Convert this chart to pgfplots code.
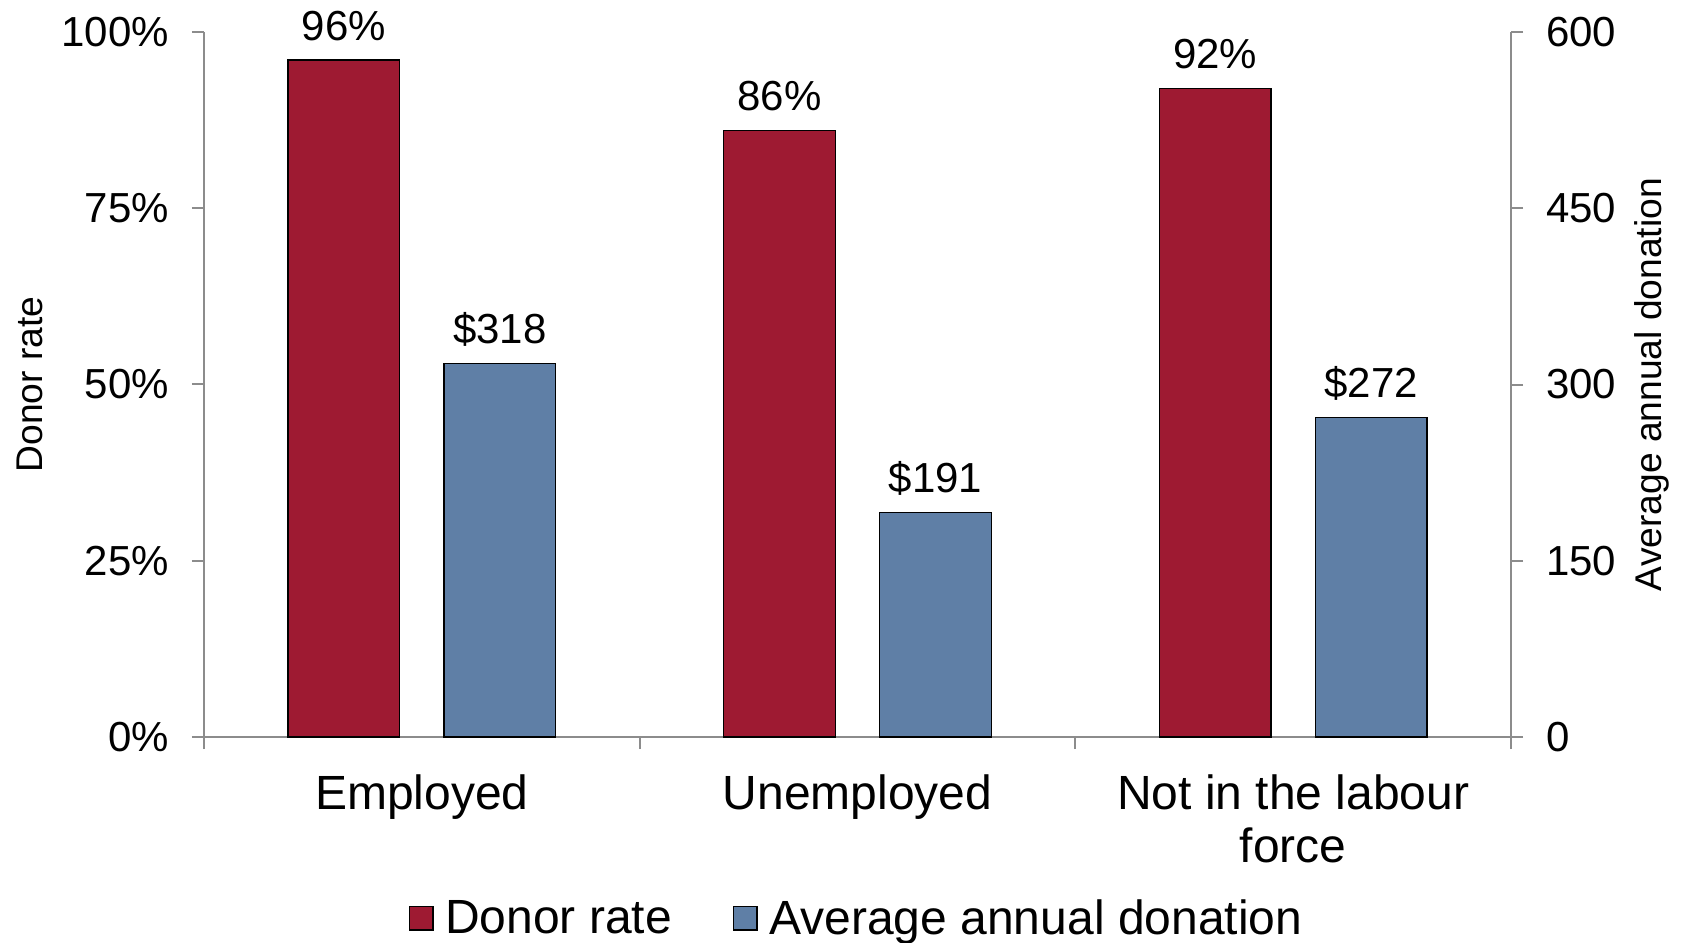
\documentclass[border=0pt]{standalone}
\usepackage{pgfplots}
\pgfplotsset{compat=1.18}
\usepackage{fontspec}
\setmainfont{Liberation Sans}
\definecolor{barred}{HTML}{9E1A32}
\definecolor{barblue}{HTML}{5F7FA6}
\definecolor{axgray}{HTML}{8C8C8C}
\pgfplotsset{
  /pgf/number format/assume math mode=true,
  common/.style={
    at={(0,0)}, anchor=south west, scale only axis,
    width=653.5pt, height=352.5pt,
    xmin=-0.5, xmax=2.5, clip=false,
    tick align=outside, major tick length=6pt,
    axis line style={axgray, line width=1pt},
    tick style={axgray, line width=1pt},
    ticklabel style={font=\fontsize{21}{25}\selectfont},
    ybar,
  },
}
\begin{document}
\begin{tikzpicture}
\begin{axis}[common,
  ymin=0, ymax=100,
  axis y line*=left, axis x line*=bottom,
  ytick={0,25,50,75,100},
  yticklabel={\pgfmathprintnumber{\tick}\%},
  yticklabel style={xshift=-8pt},
  xtick={-0.5,0.5,1.5,2.5}, xticklabels={},
  extra x ticks={0,1,2},
  extra x tick labels={Employed,Unemployed,{Not in the labour\\force}},
  extra x tick style={major tick length=0pt,
    xticklabel style={font=\fontsize{24}{26.3}\selectfont, align=center, anchor=north, yshift=-15.5pt}},
  nodes near coords={\pgfmathprintnumber{\pgfplotspointmeta}\%},
  nodes near coords style={font=\fontsize{21}{25}\selectfont, text depth=0pt, yshift=6.2pt},
]
\addplot[fill=barred, draw=black, line width=0.75pt, bar width=0.256, bar shift=-0.179]
  coordinates {(0,96) (1,86) (2,92)};
\node[rotate=90, font=\fontsize{18.6}{22}\selectfont] at ([xshift=-87pt]rel axis cs:0,0.5) {Donor rate};
\end{axis}
\begin{axis}[common,
  ymin=0, ymax=600,
  axis y line*=right, axis x line=none,
  ytick={0,150,300,450,600},
  yticklabel style={xshift=8pt},
  nodes near coords={\$\pgfmathprintnumber{\pgfplotspointmeta}},
  nodes near coords style={font=\fontsize{21}{25}\selectfont, text depth=0pt, yshift=6.2pt},
  legend style={draw=none, at={(0.5,-0.257)}, anchor=center, legend columns=2,
    font=\fontsize{24}{28}\selectfont,
    /tikz/every odd column/.append style={column sep=3.75pt},
    /tikz/every even column/.append style={column sep=28.4pt}},
  legend image code/.code={\draw[#1, line width=0.75pt] (0pt,-5.9pt) rectangle (11.8pt,5.9pt);},
]
\addlegendimage{fill=barred, draw=black}
\addlegendentry{Donor rate}
\addplot[fill=barblue, draw=black, line width=0.75pt, bar width=0.256, bar shift=0.179]
  coordinates {(0,318) (1,191) (2,272)};
\addlegendentry{Average annual donation}
\node[rotate=90, font=\fontsize{18.6}{22}\selectfont] at ([xshift=70.5pt]rel axis cs:1,0.5) {Average annual donation};
\end{axis}
\pgfresetboundingbox
\path[use as bounding box] (-102pt,-103pt) rectangle (739.5pt,368.5pt);
\end{tikzpicture}
\end{document}
